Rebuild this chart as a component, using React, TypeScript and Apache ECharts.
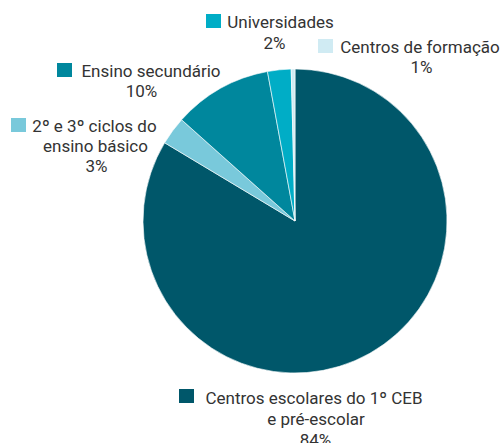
import React, { useEffect, useRef } from "react";
import * as echarts from "echarts";

const categories = [
  "Centros escolares do 1º CEB e pré-escolar",
  "2º e 3º ciclos do ensino básico",
  "Ensino secundário",
  "Universidades",
  "Centros de formação",
];
const values = [83.6, 3.0, 10.5, 2.5, 0.4];
const percentLabels = ["84%", "3%", "10%", "2%", "1%"];
const labelLines = [
  ["Centros escolares do 1º CEB", "e pré-escolar"],
  ["2º e 3º ciclos do", "ensino básico"],
  ["Ensino secundário"],
  ["Universidades"],
  ["Centros de formação"],
];
const colors = ["#00576a", "#79c9db", "#00879d", "#00adc6", "#d0ebf3"];

// label layout: square box and per-line [centerX, baselineY]
const labelLayout = [
  { sq: [179, 389], lines: [[314, 404], [316, 425], [315.5, 446]] },
  { sq: [11, 118], lines: [[94.5, 132], [95.5, 152], [96.5, 172]] },
  { sq: [57, 63], lines: [[151, 77], [141.5, 97]] },
  { sq: [206, 14], lines: [[280.5, 28], [274.5, 49]] },
  { sq: [318, 39], lines: [[420, 53], [421.5, 73]] },
];

const FONT = "Roboto, 'Noto Sans', sans-serif";
const FS = 17;

export default function App() {
  const ref = useRef<HTMLDivElement>(null);
  useEffect(() => {
    document.body.style.margin = "0";
    const chart = echarts.init(ref.current!, undefined, { renderer: "svg" });
    const graphics: any[] = [];
    categories.forEach((_, i) => {
      const lay = labelLayout[i];
      graphics.push({
        type: "rect",
        shape: { x: lay.sq[0], y: lay.sq[1], width: 15, height: 14 },
        style: { fill: colors[i] },
      });
      const lines = [...labelLines[i], percentLabels[i]];
      lines.forEach((t, j) => {
        const [cx, by] = lay.lines[j];
        graphics.push({
          type: "text",
          x: cx,
          y: by - 6,
          style: {
            text: t,
            fill: "#333333",
            font: `${FS}px ${FONT}`,
            align: "center",
            verticalAlign: "middle",
          },
        });
      });
    });
    chart.setOption({
      animation: false,
      backgroundColor: "#ffffff",
      series: [
        {
          type: "pie",
          center: [295, 221],
          radius: 152,
          startAngle: 90,
          clockwise: true,
          label: { show: false },
          labelLine: { show: false },
          itemStyle: { borderColor: "#ffffff", borderWidth: 0.6 },
          emphasis: { disabled: true },
          data: categories.map((c, i) => ({
            name: c,
            value: values[i],
            itemStyle: { color: colors[i] },
          })),
        },
      ],
      graphic: graphics,
    });
    return () => chart.dispose();
  }, []);
  return <div ref={ref} style={{ width: 503, height: 443 }} />;
}
